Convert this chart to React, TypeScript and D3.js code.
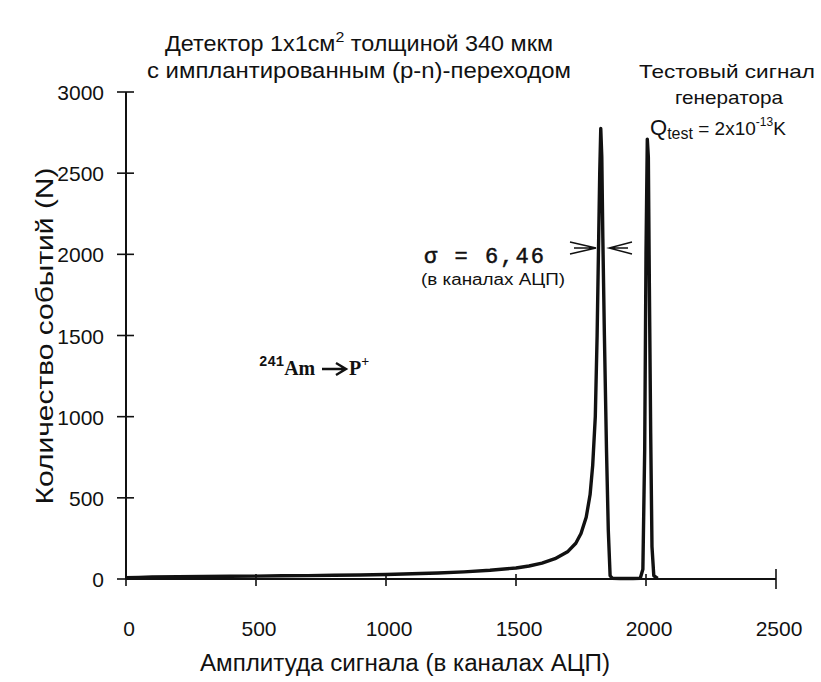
import React from 'react';
import * as d3 from 'd3';

// spectrum: channel / number of events
const channels = [
  0, 50, 100, 200, 300, 400, 500, 600, 700, 800, 900, 1000, 1100, 1200, 1300, 1400,
  1500, 1550, 1600, 1650, 1700, 1730, 1750, 1770, 1785, 1795, 1805, 1812, 1818, 1822,
  1826, 1830, 1834, 1840, 1848, 1855, 1862, 1870, 1900, 1950, 1978, 1988, 1995, 2000,
  2005, 2009, 2013, 2018, 2023, 2030, 2045,
];
const counts = [
  8, 10, 12, 14, 15, 17, 18, 20, 21, 23, 25, 28, 32, 37, 44, 54,
  68, 80, 98, 125, 170, 220, 280, 380, 520, 700, 1000, 1500, 2100, 2500,
  2775, 2600, 2100, 1500, 800, 300, 20, 5, 3, 3, 5, 60, 800, 2000,
  2710, 2600, 1800, 900, 200, 20, 4,
];
const xTicks = [0, 500, 1000, 1500, 2000, 2500];
const yTicks = [0, 500, 1000, 1500, 2000, 2500, 3000];

const sans = "'Liberation Sans', Arial, sans-serif";
const mono = "'Liberation Mono', 'Courier New', monospace";
const serif = "'Liberation Serif', 'DejaVu Serif', serif";

export default function App() {
  const x = d3.scaleLinear().domain([0, 2500]).range([126, 776]);
  const y = d3.scaleLinear().domain([0, 3000]).range([579, 92]);

  const points = channels.map((c, i) => [c, counts[i]] as [number, number]);
  const line = d3.line<[number, number]>()
    .x(d => x(d[0]))
    .y(d => y(d[1]));

  return (
    <svg width={821} height={682} style={{ position: 'absolute', left: 0, top: 0, background: '#fff' }}>
      {/* title */}
      <text x={359} y={51} textAnchor="middle" fontFamily={sans} fontSize={22} fill="#111"
        textLength={388} lengthAdjust="spacingAndGlyphs">
        Детектор 1x1см<tspan dy={-9} fontSize={15}>2</tspan><tspan dy={9}> толщиной 340 мкм</tspan>
      </text>
      <text x={359} y={78} textAnchor="middle" fontFamily={sans} fontSize={22} fill="#111"
        textLength={424} lengthAdjust="spacingAndGlyphs">
        с имплантированным (p-n)-переходом
      </text>

      {/* y axis */}
      <line x1={x(0)} x2={x(0)} y1={y(0)} y2={y(3000)} stroke="#111" strokeWidth={2} />
      {yTicks.map(t => (
        <g key={'y' + t}>
          <line x1={x(0) - 9} x2={x(0) + 8} y1={y(t)} y2={y(t)} stroke="#111" strokeWidth={1.6} />
          <text x={104} y={y(t) + 8} textAnchor="end" fontFamily={sans} fontSize={21} fill="#111">{t}</text>
        </g>
      ))}

      {/* x axis */}
      <line x1={x(0)} x2={x(2500)} y1={y(0)} y2={y(0)} stroke="#111" strokeWidth={2} />
      {xTicks.map(t => (
        <g key={'x' + t}>
          <line x1={x(t)} x2={x(t)} y1={y(0) - (t === 2500 ? 10 : 5)} y2={y(0) + (t === 2500 ? 10 : 7)}
            stroke="#111" strokeWidth={1.6} />
          <text x={x(t) + 3} y={y(0) + 57} textAnchor="middle" fontFamily={sans} fontSize={21} fill="#111">{t}</text>
        </g>
      ))}

      {/* spectrum */}
      <path d={line(points) ?? ''} fill="none" stroke="#111" strokeWidth={3.4} strokeLinejoin="round" />

      {/* axis titles */}
      <text x={405} y={671} textAnchor="middle" fontFamily={sans} fontSize={23} fill="#111"
        textLength={410} lengthAdjust="spacingAndGlyphs">
        Амплитуда сигнала (в каналах АЦП)
      </text>
      <text transform="translate(53,336) rotate(-90)" textAnchor="middle" fontFamily={sans} fontSize={23} fill="#111"
        textLength={337} lengthAdjust="spacingAndGlyphs">
        Количество событий (N)
      </text>

      {/* sigma note */}
      <text x={424} y={263} fontFamily={mono} fontSize={22} fill="#111" stroke="#111" strokeWidth={0.5}
        textLength={120} lengthAdjust="spacing">σ = 6,46</text>
      <text x={421} y={285} fontFamily={sans} fontSize={16} fill="#111"
        textLength={144} lengthAdjust="spacingAndGlyphs">(в каналах АЦП)</text>
      <path d="M570,242 L596,248 L570,254 M574,248 L596,248" fill="none" stroke="#111" strokeWidth={1.4} />
      <path d="M632,242 L609,248 L632,254 M628,248 L609,248" fill="none" stroke="#111" strokeWidth={1.4} />

      {/* source */}
      <text x={259} y={375} fontFamily={serif} fontWeight="bold" fontSize={22} fill="#111">
        <tspan dy={-9} fontSize={14} fontFamily={mono}>241</tspan>
        <tspan dy={9} textLength={31} lengthAdjust="spacingAndGlyphs">Am</tspan>
      </text>
      <path d="M322,369 L345,369 M336,363 L346,369 L336,375" fill="none" stroke="#111" strokeWidth={2.4} />
      <text x={349} y={375} fontFamily={serif} fontWeight="bold" fontSize={20} fill="#111">
        P<tspan dy={-9} fontSize={14}>+</tspan>
      </text>

      {/* generator note */}
      <text x={727} y={78} textAnchor="middle" fontFamily={sans} fontSize={19} fill="#111"
        textLength={176} lengthAdjust="spacingAndGlyphs">Тестовый сигнал</text>
      <text x={729} y={104} textAnchor="middle" fontFamily={sans} fontSize={19} fill="#111"
        textLength={108} lengthAdjust="spacingAndGlyphs">генератора</text>
      <text x={650} y={135} fontFamily={sans} fontSize={22} fill="#111">
        Q<tspan dy={4} fontSize={16}>test</tspan><tspan dy={-4} fontSize={19}> = 2x10</tspan>
        <tspan dy={-9} fontSize={12}>-13</tspan><tspan dy={9} fontSize={19}>K</tspan>
      </text>
    </svg>
  );
}
